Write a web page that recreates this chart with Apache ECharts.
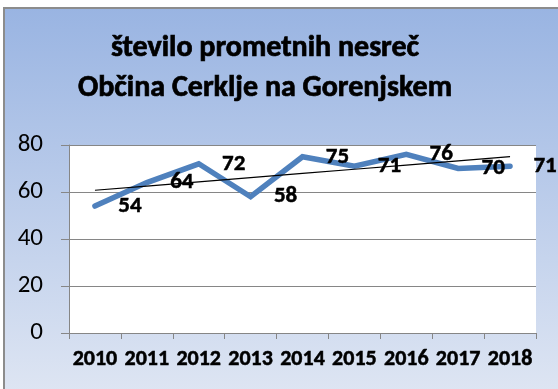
<!DOCTYPE html>
<html>
<head>
<meta charset="utf-8">
<style>
  html, body { margin: 0; padding: 0; background: #ffffff; }
  #chart { width: 558px; height: 389px; }
</style>
<script src="https://cdn.jsdelivr.net/npm/echarts@6/dist/echarts.min.js"></script>
</head>
<body>
<div id="chart"></div>
<script>
// Number of traffic accidents per year
const years = ['2010', '2011', '2012', '2013', '2014', '2015', '2016', '2017', '2018'];
const accidents = [54, 64, 72, 58, 75, 71, 76, 70, 71];
const yTicks = { min: 0, max: 80, interval: 20 };
const titleLines = ['število prometnih nesreč', 'Občina Cerklje na Gorenjskem'];

// Least-squares linear trend over the yearly counts
function linearTrend(values) {
  const n = values.length;
  let sx = 0, sy = 0, sxy = 0, sxx = 0;
  values.forEach((v, i) => { sx += i; sy += v; sxy += i * v; sxx += i * i; });
  const slope = (n * sxy - sx * sy) / (n * sxx - sx * sx);
  const intercept = (sy - slope * sx) / n;
  return values.map((_, i) => intercept + slope * i);
}
const trend = linearTrend(accidents);

const FONT = 'Carlito, Lato, "Liberation Sans", sans-serif';

function draw() {
  const chart = echarts.init(document.getElementById('chart'), null, { renderer: 'canvas' });
  chart.setOption({
    animation: false,
    textStyle: { fontFamily: FONT },
    graphic: [
      {
        type: 'rect',
        z: -10,
        shape: { x: 4, y: 8, width: 560, height: 390 },
        style: {
          fill: new echarts.graphic.LinearGradient(0, 0, 0, 1, [
            { offset: 0, color: '#99b4e2' },
            { offset: 1, color: '#dfe6f3' }
          ]),
          stroke: '#8c8c8c',
          lineWidth: 2
        }
      },
      {
        type: 'text',
        z: 10,
        style: {
          text: titleLines.join('\n'),
          x: 265,
          y: 68,
          align: 'center',
          verticalAlign: 'middle',
          font: 'bold 30px ' + FONT,
          lineHeight: 40,
          fill: '#000000',
          stroke: '#000000',
          lineWidth: 0.7
        }
      }
    ],
    grid: {
      left: 69, right: 22, top: 145, bottom: 56,
      show: true,
      backgroundColor: '#ffffff',
      borderWidth: 0
    },
    xAxis: {
      type: 'category',
      data: years,
      boundaryGap: true,
      axisLine: { show: true, lineStyle: { color: '#868686', width: 1 } },
      axisTick: { show: true, alignWithLabel: false, length: 6, lineStyle: { color: '#868686' } },
      axisLabel: {
        color: '#000000',
        fontWeight: 'bold',
        fontSize: 22,
        fontFamily: FONT,
        margin: 15,
        interval: 0,
        textBorderColor: '#000000',
        textBorderWidth: 0.5
      },
      splitLine: { show: false }
    },
    yAxis: {
      type: 'value',
      min: yTicks.min,
      max: yTicks.max,
      interval: yTicks.interval,
      axisLine: { show: true, lineStyle: { color: '#868686', width: 1 } },
      axisTick: { show: true, length: 8, lineStyle: { color: '#868686' } },
      axisLabel: { color: '#000000', fontSize: 25, fontFamily: FONT, margin: 26 },
      splitLine: { show: true, lineStyle: { color: '#868686', width: 1 } }
    },
    series: [
      {
        name: 'nesreče',
        type: 'line',
        data: accidents,
        symbol: 'circle',
        symbolSize: 1,
        showSymbol: true,
        lineStyle: { color: '#4f81bd', width: 5.5, cap: 'round', join: 'miter' },
        itemStyle: { color: '#4f81bd' },
        label: {
          show: true,
          position: 'inside',
          offset: [35, 0],
          color: '#000000',
          fontWeight: 'bold',
          fontSize: 23,
          fontFamily: FONT,
          textBorderColor: '#000000',
          textBorderWidth: 0.5
        },
        z: 3
      },
      {
        name: 'trend',
        type: 'line',
        data: trend,
        symbol: 'none',
        lineStyle: { color: '#000000', width: 1.2 },
        silent: true,
        z: 4
      }
    ]
  });
}

if (document.fonts && document.fonts.load) {
  Promise.all([
    document.fonts.load('bold 20px Carlito'),
    document.fonts.load('20px Carlito')
  ]).then(draw, draw);
} else {
  draw();
}
</script>
</body>
</html>
